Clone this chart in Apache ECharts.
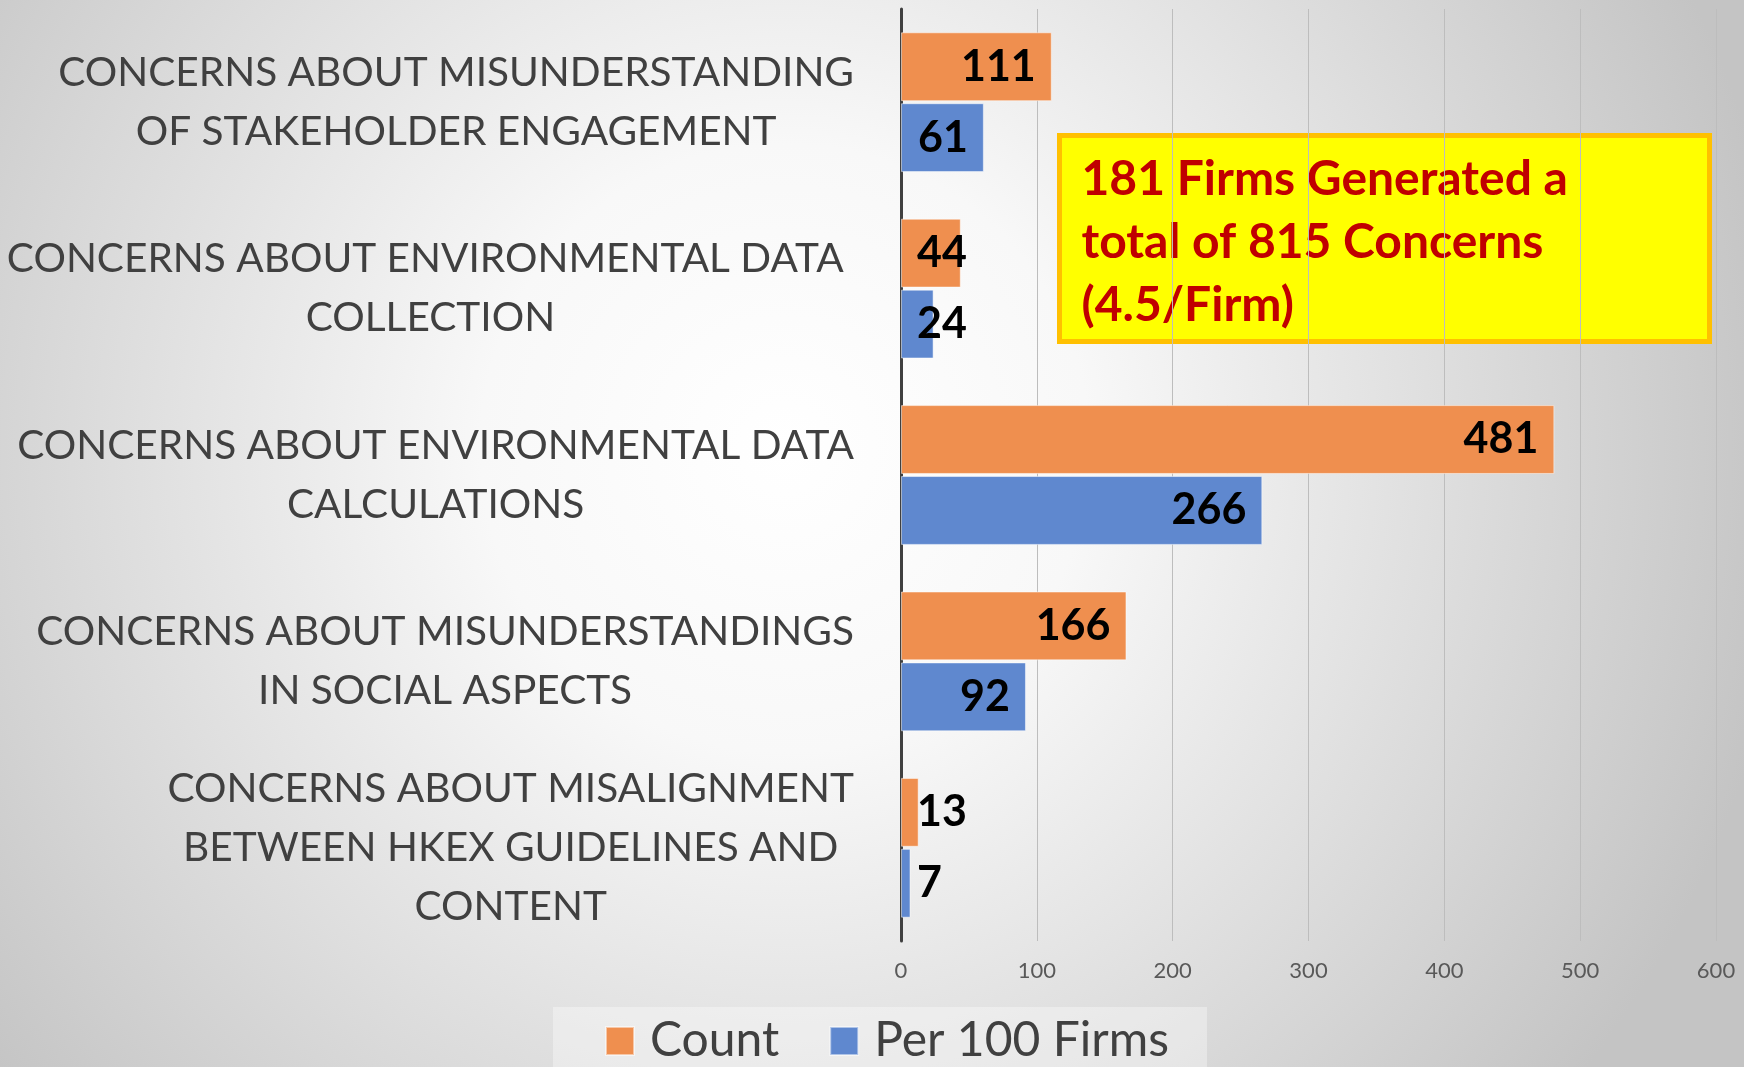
<!DOCTYPE html>
<html>
<head>
<meta charset="utf-8">
<script src="https://cdn.jsdelivr.net/npm/echarts@6/dist/echarts.min.js"></script>
<style>
  html, body { margin: 0; padding: 0; }
  #main { width: 1744px; height: 1067px; }
</style>
</head>
<body>
<div id="main"></div>
<script>
// categories, top to bottom
var categories = [
    'CONCERNS ABOUT MISUNDERSTANDING\nOF STAKEHOLDER ENGAGEMENT',
    'CONCERNS ABOUT ENVIRONMENTAL DATA \nCOLLECTION',
    'CONCERNS ABOUT ENVIRONMENTAL DATA\nCALCULATIONS',
    'CONCERNS ABOUT MISUNDERSTANDINGS\nIN SOCIAL ASPECTS',
    'CONCERNS ABOUT MISALIGNMENT\nBETWEEN HKEX GUIDELINES AND\nCONTENT'
];
var countData = [111, 44, 481, 166, 13];
var per100Data = [61, 24, 266, 92, 7];
var seriesNames = ['Count', 'Per 100 Firms'];
var xTicks = { min: 0, max: 600, interval: 100 };
var noteLines = ['181 Firms Generated a', 'total of 815 Concerns', '(4.5/Firm)'];

var FONT = 'Lato';
var pxPerUnit = 136 / 100;

// small bars: put the label just right of the axis, like excel does
function withLabels(arr) {
    return arr.map(function (v) {
        var room = v * pxPerUnit;
        var need = String(v).length * 25 + 32;
        if (room < need) {
            return { value: v, label: { position: 'insideLeft' } };
        }
        return v;
    });
}

var barLabel = {
    show: true,
    position: 'insideRight',
    distance: 16,
    color: '#000',
    fontFamily: FONT,
    fontWeight: 'bold',
    fontSize: 43
};

option = {
    backgroundColor: {
        type: 'radial',
        x: 0.45, y: 0.42, r: 0.95,
        colorStops: [
            { offset: 0, color: '#ffffff' },
            { offset: 0.3, color: '#f8f8f8' },
            { offset: 1, color: '#c4c4c4' }
        ]
    },
    animation: false,
    color: ['#ef8f4f', '#5f88cf'],
    legend: {
        left: 553,
        top: 1007,
        padding: [10, 38, 12, 52],
        backgroundColor: 'rgba(255,255,255,0.35)',
        itemWidth: 28,
        itemHeight: 28,
        itemGap: 50,
        icon: 'rect',
        data: seriesNames,
        textStyle: {
            fontFamily: FONT,
            fontSize: 48,
            color: '#404040',
            padding: [0, 0, 0, 11]
        }
    },
    grid: {
        left: 901,
        right: 28,
        top: 9,
        bottom: 126,
        containLabel: false,
        outerBoundsMode: 'none'
    },
    xAxis: {
        type: 'value',
        min: xTicks.min,
        max: xTicks.max,
        interval: xTicks.interval,
        axisLine: { show: false },
        axisTick: { show: false },
        splitLine: { lineStyle: { color: '#bdbdbd', width: 1 } },
        axisLabel: {
            margin: 19,
            fontFamily: FONT,
            fontSize: 22,
            color: '#595959'
        }
    },
    yAxis: {
        type: 'category',
        inverse: true,
        data: categories,
        axisTick: { show: false },
        axisLine: { lineStyle: { color: '#404040', width: 3 } },
        axisLabel: {
            margin: 47,
            formatter: function (v) {
                return v.split('\n').map(function (s) { return '{c|' + s + '}'; }).join('\n');
            },
            rich: {
                c: {
                    align: 'center',
                    fontFamily: FONT,
                    fontSize: 40.6,
                    lineHeight: 59,
                    color: '#404040'
                }
            }
        }
    },
    series: [{
        name: seriesNames[0],
        type: 'bar',
        barCategoryGap: '25%',
        barGap: '3%',
        itemStyle: { borderColor: 'rgba(255,255,255,0.5)', borderWidth: 1 },
        label: barLabel,
        data: withLabels(countData)
    }, {
        name: seriesNames[1],
        type: 'bar',
        itemStyle: { borderColor: 'rgba(255,255,255,0.5)', borderWidth: 1 },
        label: barLabel,
        data: withLabels(per100Data)
    }],
    graphic: [{
        type: 'group',
        left: 1057,
        top: 133,
        children: [{
            type: 'rect',
            shape: { x: 0, y: 0, width: 650, height: 206 },
            style: { fill: '#ffff00', stroke: '#ffc000', lineWidth: 5 }
        }, {
            type: 'text',
            x: 22,
            y: 13,
            style: {
                text: noteLines.join('\n'),
                fill: '#c00000',
                fontFamily: FONT,
                fontWeight: 'bold',
                fontSize: 48,
                lineHeight: 63
            }
        }]
    }]
};

var myChart = echarts.init(document.getElementById('main'));
myChart.setOption(option);
</script>
</body>
</html>
